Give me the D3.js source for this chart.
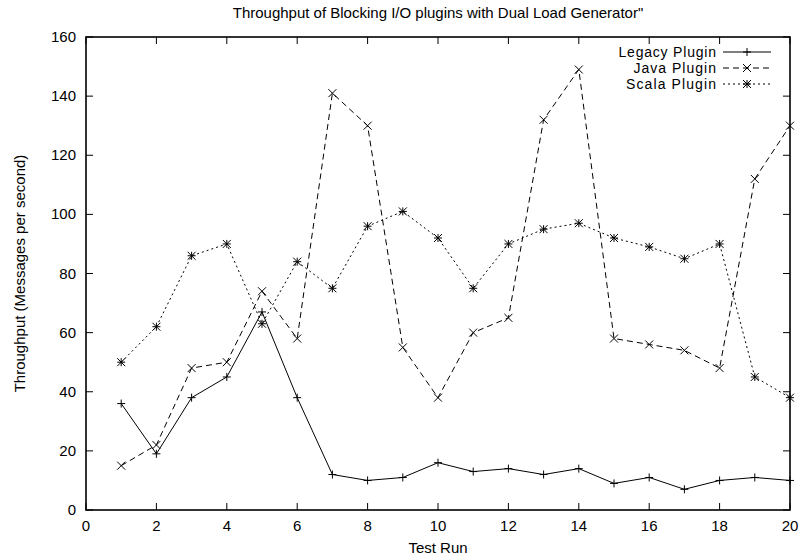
<!DOCTYPE html>
<meta charset="utf-8">
<head>
    <script src="https://d3js.org/d3.v7.min.js"></script>
    <style>
      body { margin: 0; background: #fff; }
      text { font-family: "Liberation Sans", Arial, sans-serif; fill: #000; }
    </style>
</head>
<html lang="en">
    <body>
        <div id="chart"></div>
    </body>
</html>
<script>

    // data
    const runs = d3.range(1, 21)
    const legacy = [36, 19, 38, 45, 67, 38, 12, 10, 11, 16, 13, 14, 12, 14, 9, 11, 7, 10, 11, 10]
    const java   = [15, 22, 48, 50, 74, 58, 141, 130, 55, 38, 60, 65, 132, 149, 58, 56, 54, 48, 112, 130]
    const scala  = [50, 62, 86, 90, 63, 84, 75, 96, 101, 92, 75, 90, 95, 97, 92, 89, 85, 90, 45, 38]
    const seriesNames = ["Legacy Plugin", "Java Plugin", "Scala Plugin"]
    const xTicks = d3.range(0, 21, 2)
    const yTicks = d3.range(0, 161, 20)

    const W = 803, H = 560
    const margin = {top: 37, right: 13, bottom: 50, left: 86}
    const width = W - margin.left - margin.right,
          height = H - margin.top - margin.bottom

    const svg = d3.select("#chart").append("svg")
      .attr("width", W).attr("height", H)

    const g = svg.append("g")
      .attr("transform", `translate(${margin.left},${margin.top})`)

    const x = d3.scaleLinear().domain([0, 20]).range([0, width])
    const y = d3.scaleLinear().domain([0, 160]).range([height, 0])

    const tickLen = 7

    // ticks on all four sides, pointing inward
    g.selectAll(".xt").data(xTicks).join("path")
      .attr("d", d => `M${x(d)},${height}v${-tickLen}M${x(d)},0v${tickLen}`)
      .attr("stroke", "#000").attr("stroke-width", 1)
    g.selectAll(".yt").data(yTicks).join("path")
      .attr("d", d => `M0,${y(d)}h${tickLen}M${width},${y(d)}h${-tickLen}`)
      .attr("stroke", "#000").attr("stroke-width", 1)

    // tick labels
    g.selectAll(".xl").data(xTicks).join("text")
      .attr("x", d => x(d)).attr("y", height + 21)
      .attr("text-anchor", "middle").style("font-size", "15px")
      .text(d => d)
    g.selectAll(".yl").data(yTicks).join("text")
      .attr("x", -10).attr("y", d => y(d) + 5)
      .attr("text-anchor", "end").style("font-size", "15px")
      .text(d => d)

    // frame
    g.append("rect")
      .attr("width", width).attr("height", height)
      .attr("fill", "none").attr("stroke", "#000").attr("stroke-width", 1.6)

    // titles
    svg.append("text")
      .attr("x", margin.left + width / 2).attr("y", 18)
      .attr("text-anchor", "middle").style("font-size", "15px")
      .text("Throughput of Blocking I/O plugins with Dual Load Generator\"")
    svg.append("text")
      .attr("x", margin.left + width / 2).attr("y", 553)
      .attr("text-anchor", "middle").style("font-size", "15px")
      .text("Test Run")
    svg.append("text")
      .attr("transform", `translate(25,${margin.top + height / 2}) rotate(-90)`)
      .attr("text-anchor", "middle").style("font-size", "15px")
      .text("Throughput (Messages per second)")

    // point markers
    const s = 4
    const markers = [
      (cx, cy) => `M${cx - s},${cy}h${2 * s}M${cx},${cy - s}v${2 * s}`,
      (cx, cy) => `M${cx - s},${cy - s}l${2 * s},${2 * s}M${cx - s},${cy + s}l${2 * s},${-2 * s}`,
      (cx, cy) => `M${cx - s},${cy}h${2 * s}M${cx},${cy - s}v${2 * s}M${cx - s},${cy - s}l${2 * s},${2 * s}M${cx - s},${cy + s}l${2 * s},${-2 * s}`
    ]
    const dashes = [null, "6,4", "2,3"]
    const allSeries = [legacy, java, scala]

    const line = d3.line().x((d, i) => x(runs[i])).y(d => y(d))

    allSeries.forEach((vals, k) => {
      g.append("path")
        .attr("d", line(vals))
        .attr("fill", "none").attr("stroke", "#000").attr("stroke-width", 1)
        .attr("stroke-dasharray", dashes[k])
      g.selectAll(".m" + k).data(vals).join("path")
        .attr("d", (d, i) => markers[k](x(runs[i]), y(d)))
        .attr("fill", "none").attr("stroke", "#000").attr("stroke-width", 1)
    })

    // legend
    const lg = svg.append("g")
    seriesNames.forEach((name, k) => {
      const ly = 52 + k * 16
      lg.append("text")
        .attr("x", 716).attr("y", ly + 5)
        .attr("text-anchor", "end").style("font-size", "14px")
        .attr("textLength", name.length * 7.5).attr("lengthAdjust", "spacing")
        .text(name)
      lg.append("path")
        .attr("d", `M723,${ly}H771`)
        .attr("stroke", "#000").attr("stroke-width", 1)
        .attr("stroke-dasharray", dashes[k])
      lg.append("path")
        .attr("d", markers[k](747, ly))
        .attr("fill", "none").attr("stroke", "#000").attr("stroke-width", 1)
    })
    </script>
